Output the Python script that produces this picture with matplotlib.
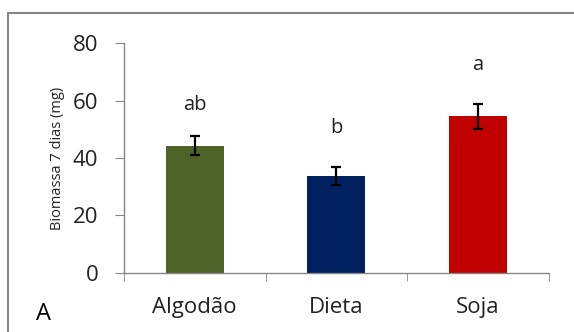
import matplotlib.pyplot as plt
from matplotlib.patches import Rectangle

# biomassa media aos 7 dias por tratamento
tratamentos = ['Algodão', 'Dieta', 'Soja']
biomassa = [44.3, 33.7, 54.5]
erro = [3.3, 3.2, 4.4]
letras = ['ab', 'b', 'a']
altura_letras = [58.5, 50.5, 72.5]
cores = ['#4f6228', '#002060', '#c00000']

plt.rcParams['font.family'] = ['Open Sans', 'DejaVu Sans']

fig = plt.figure(figsize=(5.74, 3.32), dpi=100)
ax = fig.add_axes([0.216, 0.178, 0.740, 0.692])

x = range(len(tratamentos))
ax.bar(x, biomassa, width=0.41, color=cores, yerr=erro,
       error_kw=dict(ecolor='black', elinewidth=1.6, capsize=3.8, capthick=1.6))

# letras de significancia acima de cada barra
for i, (h, l) in enumerate(zip(altura_letras, letras)):
    ax.text(i, h, l, ha='center', va='center', fontsize=14.5, color='#222222')

ax.set_xlim(-0.5, 2.5)
ax.set_ylim(0, 80)
ax.set_yticks([0, 20, 40, 60, 80])
ax.set_xticks([0, 1, 2])
ax.set_xticklabels(tratamentos)
ax.set_xticks([-0.5, 0.5, 1.5, 2.5], minor=True)

for s in ['top', 'right']:
    ax.spines[s].set_visible(False)
for s in ['left', 'bottom']:
    ax.spines[s].set_color('#868686')
    ax.spines[s].set_linewidth(1)

ax.tick_params(axis='y', length=6.5, color='#868686', labelsize=16, labelcolor='#222222', pad=12)
ax.tick_params(axis='x', which='major', length=0, labelsize=16, labelcolor='#222222', pad=17)
ax.tick_params(axis='x', which='minor', length=6, color='#868686')

ax.set_ylabel('Biomassa 7 dias (mg)', fontsize=10.5, color='#222222')
ax.yaxis.set_label_coords(-0.14, 0.5)

# moldura externa e letra do painel
fig.patches.append(Rectangle((8 / 574, -0.1), 1.0, 1 - 13 / 332 + 0.1, transform=fig.transFigure,
                             fill=False, edgecolor='#868686', linewidth=1.5))
fig.text(36 / 574, 1 - 314 / 332, 'A', fontsize=17, va='center', ha='left', color='black')

fig.savefig('out.png', dpi=100)
